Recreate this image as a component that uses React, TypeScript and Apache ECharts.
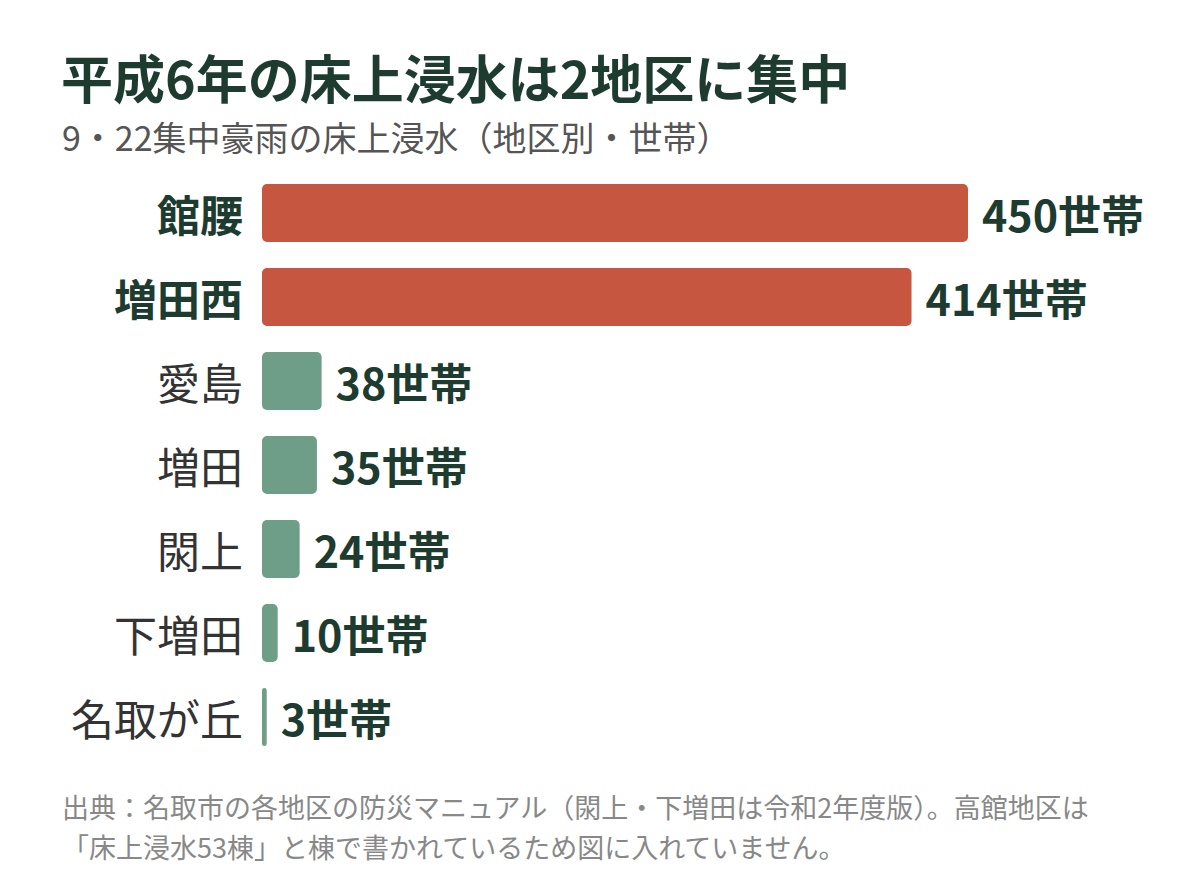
import { useRef, useEffect } from "react";
import * as echarts from "echarts";

const districts = ["館腰", "増田西", "愛島", "増田", "閖上", "下増田", "名取が丘"];
const households = [450, 414, 38, 35, 24, 10, 3];
const highlighted = ["館腰", "増田西"];

const FONT = '"Noto Sans CJK JP", "Noto Sans", sans-serif';
const DARK = "#1e3b30";
const RED = "#c6563f";
const GREEN = "#6e9e87";

export default function App() {
  const chartRef = useRef<HTMLDivElement>(null);
  useEffect(() => {
    document.body.style.margin = "0";
    if (!chartRef.current) return;
    const chart = echarts.init(chartRef.current, null, { renderer: "svg" });
    const option: echarts.EChartsOption = {
      animation: false,
      backgroundColor: "#ffffff",
      textStyle: { fontFamily: FONT },
      grid: { left: 262, right: 232, top: 171, height: 588 },
      xAxis: { type: "value", min: 0, max: 450, show: false },
      yAxis: {
        type: "category",
        data: districts,
        inverse: true,
        axisLine: { show: false },
        axisTick: { show: false },
        axisLabel: {
          margin: 19,
          fontFamily: FONT,
          formatter: (v: string) => (highlighted.includes(v) ? "{b|" + v + "}" : "{n|" + v + "}"),
          rich: {
            b: { fontSize: 43, fontWeight: "bold", color: DARK, fontFamily: FONT },
            n: { fontSize: 43, fontWeight: "normal", color: "#333333", fontFamily: FONT },
          },
        },
      },
      series: [
        {
          type: "bar",
          barCategoryGap: "31%",
          data: households.map((v, i) => ({
            value: v,
            itemStyle: { color: highlighted.includes(districts[i]) ? RED : GREEN },
          })),
          itemStyle: { borderRadius: 5 },
          label: {
            show: true,
            position: "right",
            distance: 14,
            formatter: (p: any) => p.value + "世帯",
            fontSize: 43,
            fontWeight: "bold",
            color: DARK,
            fontFamily: FONT,
          },
        },
      ],
      graphic: [
        {
          type: "text", left: 61, top: 50,
          style: { text: "平成6年の床上浸水は2地区に集中", fontSize: 52, fontWeight: "bold", fill: DARK, fontFamily: FONT },
        },
        {
          type: "text", left: 62, top: 119,
          style: { text: "9・22集中豪雨の床上浸水（地区別・世帯）", fontSize: 34, fill: "#555555", fontFamily: FONT },
        },
        {
          type: "text", x: 62, y: 806,
          style: {
            text: "出典：名取市の各地区の防災マニュアル（閖上・下増田は令和2年度版）。高館地区は",
            fontSize: 27, verticalAlign: "middle", fill: "#888888", fontFamily: FONT,
          },
        },
        {
          type: "text", x: 62, y: 846,
          style: {
            text: "「床上浸水53棟」と棟で書かれているため図に入れていません。",
            fontSize: 27, verticalAlign: "middle", fill: "#888888", fontFamily: FONT,
          },
        },
      ],
    };
    chart.setOption(option);
    return () => chart.dispose();
  }, []);
  return <div ref={chartRef} style={{ width: 1200, height: 894 }} />;
}
